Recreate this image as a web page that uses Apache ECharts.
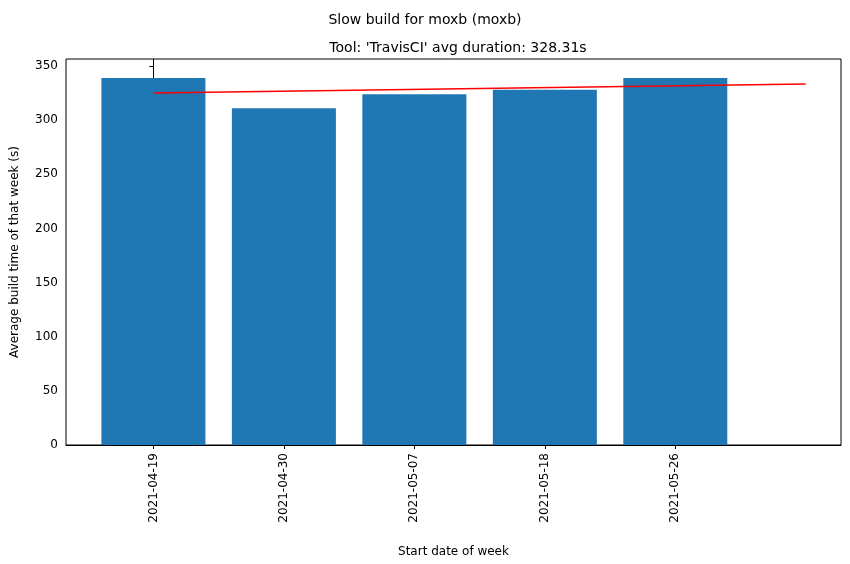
<!DOCTYPE html>
<html>
<head>
<meta charset="utf-8">
<script src="https://cdn.jsdelivr.net/npm/echarts@6/dist/echarts.min.js"></script>
<style>html,body{margin:0;padding:0;background:#fff}#chart{width:850px;height:564px}</style>
</head>
<body>
<div id="chart"></div>
<script>
var weeks = ['2021-04-19', '2021-04-30', '2021-05-07', '2021-05-18', '2021-05-26'];
var durations = [339, 311, 324, 328, 339];
var trendX = [0, 5];
var trendY = [325, 333.5];

var chart = echarts.init(document.getElementById('chart'));
var barData = [];
for (var i = 0; i < durations.length; i++) {
    barData.push([i, durations[i]]);
}
var lineData = [];
for (var j = 0; j < trendX.length; j++) {
    lineData.push([trendX[j], trendY[j]]);
}
var font = 'DejaVu Sans';

chart.setOption({
    animation: false,
    textStyle: { fontFamily: font },
    title: [
        { text: 'Slow build for moxb (moxb)', left: 'center', top: 8,
          textStyle: { fontSize: 14, fontWeight: 'normal', color: '#000', fontFamily: font } },
        { text: "Tool: 'TravisCI' avg duration: 328.31s", left: 453, textAlign: 'center', top: 36,
          textStyle: { fontSize: 14, fontWeight: 'normal', color: '#000', fontFamily: font } }
    ],
    grid: { left: 66, right: 9, top: 59, bottom: 119 },
    xAxis: {
        type: 'value',
        min: -0.67,
        max: 5.27,
        name: 'Start date of week',
        nameLocation: 'middle',
        nameGap: 101,
        nameTextStyle: { fontSize: 12, color: '#000' },
        splitLine: { show: false },
        axisLine: { show: true, onZero: false, lineStyle: { color: '#000' } },
        axisTick: { show: true, customValues: [0, 1, 2, 3, 4], length: 4, lineStyle: { color: '#000' } },
        axisLabel: {
            customValues: [0, 1, 2, 3, 4],
            rotate: 90,
            fontSize: 12,
            color: '#000',
            formatter: function (v) { return weeks[Math.round(v)]; }
        }
    },
    yAxis: {
        type: 'value',
        min: 0,
        max: 356.5,
        interval: 50,
        name: 'Average build time of that week (s)',
        nameLocation: 'middle',
        nameGap: 45,
        nameTextStyle: { fontSize: 12, color: '#000' },
        splitLine: { show: false },
        axisLine: { show: true, lineStyle: { color: '#000' } },
        axisTick: { show: true, length: 4, lineStyle: { color: '#000' } },
        axisLabel: { fontSize: 12, color: '#000', showMaxLabel: false }
    },
    series: [
        {
            type: 'bar',
            data: barData,
            barWidth: 104,
            itemStyle: { color: '#1f77b4' }
        },
        {
            type: 'line',
            data: lineData,
            symbol: 'none',
            lineStyle: { color: '#ff0000', width: 1.5 }
        }
    ]
});
// right/top frame like matplotlib
chart.setOption({
    graphic: [{
        type: 'rect',
        shape: { x: 66, y: 59, width: 775, height: 386 },
        style: { fill: 'none', stroke: '#000', lineWidth: 1 },
        silent: true
    }]
});
</script>
</body>
</html>
